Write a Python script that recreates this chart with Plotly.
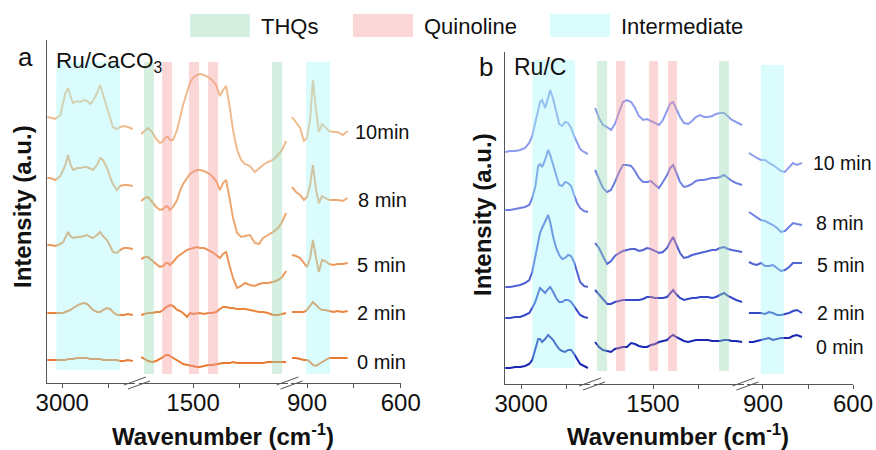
import plotly.graph_objects as go

W, H = 876, 450
FONT = "Liberation Sans, Arial, Helvetica, sans-serif"

# ---------------- data ----------------
# Wavenumbers (cm-1) sampled in the three windows of the broken axis
wn_a = [3048, 3038, 3022, 3006, 2997, 2990, 2981, 2974, 2965, 2952, 2942, 2930, 2920, 2910, 2901,
        2888, 2878, 2869, 2856, 2846, 2837, 2824, 2814, 2802, 2789, 2773,
        1666, 1654, 1644, 1631, 1618, 1606, 1596, 1586, 1580, 1574, 1564, 1551, 1542, 1532, 1519,
        1510, 1500, 1487, 1478, 1465, 1452, 1439, 1426, 1414, 1404, 1394, 1382, 1372, 1359, 1346,
        1334, 1318, 1302, 1289, 1276, 1260, 1244, 1228, 1215, 1202,
        948, 935, 922, 910, 900, 890, 881, 871, 862, 852, 842, 829, 815, 802, 786, 770]

# Ru/CaCO3 spectra (a.u., stacked)
caco3_0min = [23, 23, 23, 23, 23, 23, 24, 24, 24, 25, 25, 25, 25, 24, 24, 24, 24, 23, 23, 23, 23, 23, 22, 22, 23, 22,
              26, 24, 22, 21, 22, 24, 26, 28, 28, 27, 25, 23, 21, 19, 18, 17, 17, 16, 16, 17, 18, 18, 19, 20,
              20, 20, 20, 21, 20, 20, 20, 20, 20, 20, 20, 21, 21, 21, 21, 21,
              25, 25, 24, 23, 23, 21, 18, 17, 19, 21, 23, 25, 25, 25, 25, 25]
caco3_2min = [70, 70, 70, 70, 70, 71, 72, 73, 75, 77, 79, 80, 79, 76, 73, 71, 71, 73, 75, 74, 71, 68, 68, 68, 69, 68,
              68, 69, 70, 70, 71, 71, 73, 76, 77, 78, 77, 73, 72, 70, 66, 70, 69, 70, 70, 69, 70, 70, 71, 74,
              76, 76, 75, 75, 74, 74, 74, 73, 72, 71, 71, 70, 68, 68, 69, 70,
              71, 71, 71, 71, 73, 77, 81, 78, 75, 73, 73, 72, 71, 72, 71, 72]
caco3_5min = [138, 138, 137, 139, 141, 145, 151, 147, 145, 146, 146, 147, 148, 146, 145, 148, 151, 147, 143, 137,
              131, 130, 133, 135, 135, 134,
              124, 126, 126, 122, 119, 116, 117, 120, 120, 118, 121, 126, 128, 130, 133, 134, 135, 136, 135, 135,
              133, 131, 128, 125, 129, 131, 116, 105, 95, 97, 100, 98, 97, 99, 100, 100, 101, 103, 106, 112,
              128, 127, 125, 120, 116, 125, 143, 125, 111, 123, 122, 119, 118, 119, 119, 120]
caco3_8min = [205, 205, 203, 207, 213, 218, 228, 219, 213, 215, 215, 216, 216, 214, 213, 218, 225, 223, 215, 206,
              199, 193, 197, 198, 198, 197,
              182, 185, 186, 181, 176, 173, 174, 177, 176, 173, 176, 183, 192, 199, 205, 209, 211, 213, 213, 212,
              210, 207, 202, 193, 200, 203, 183, 165, 150, 146, 147, 148, 140, 139, 145, 148, 151, 155, 161, 170,
              196, 191, 188, 183, 186, 198, 218, 193, 180, 187, 185, 183, 183, 183, 182, 185]
caco3_10min = [266, 265, 264, 268, 279, 290, 295, 287, 280, 282, 281, 283, 282, 279, 282, 290, 298, 288, 275, 265,
               256, 254, 256, 257, 256, 254,
               249, 252, 255, 251, 244, 240, 242, 246, 246, 243, 243, 253, 265, 278, 291, 300, 305, 308, 309, 308,
               306, 303, 298, 287, 293, 297, 275, 253, 233, 223, 219, 217, 211, 215, 218, 221, 223, 228, 233, 242,
               266, 260, 255, 242, 245, 263, 303, 273, 251, 259, 256, 252, 251, 251, 248, 252]

wn_b = [3053, 3037, 3020, 3003, 2987, 2973, 2963, 2953, 2943, 2937, 2930, 2920, 2910, 2903, 2893, 2883, 2873,
        2863, 2853, 2843, 2833, 2823, 2813, 2803, 2790, 2777,
        1693, 1680, 1667, 1653, 1640, 1627, 1613, 1600, 1587, 1573, 1560, 1547, 1533, 1520, 1507, 1493, 1480,
        1467, 1453, 1443, 1433, 1423, 1410, 1397, 1383, 1370, 1357, 1343, 1330, 1317, 1303, 1290, 1277, 1263,
        1250, 1237, 1223, 1203,
        947, 933, 920, 907, 893, 880, 867, 853, 840, 827, 813, 800, 787, 770]

# Ru/C spectra (a.u., stacked)
ruc_0min = [16, 16, 17, 17, 18, 20, 24, 35, 45, 45, 42, 45, 49, 47, 44, 39, 35, 33, 32, 34, 34, 30, 25, 20, 18, 16,
            42, 37, 34, 33, 32, 35, 36, 37, 37, 41, 40, 38, 37, 37, 39, 40, 42, 43, 44, 47, 49, 47, 45, 43, 42,
            43, 44, 44, 44, 44, 43, 43, 43, 44, 44, 43, 43, 42,
            42, 42, 43, 44, 45, 46, 44, 45, 46, 46, 46, 48, 49, 47]
ruc_2min = [66, 66, 67, 67, 69, 71, 76, 82, 91, 96, 94, 91, 95, 97, 92, 86, 82, 82, 84, 84, 82, 78, 73, 69, 67, 66,
            94, 89, 85, 80, 80, 82, 83, 84, 84, 84, 84, 84, 85, 87, 87, 86, 86, 86, 87, 90, 94, 90, 86, 84, 85,
            86, 86, 87, 87, 87, 86, 87, 89, 91, 88, 86, 84, 82,
            71, 71, 71, 71, 70, 72, 71, 69, 69, 70, 71, 73, 74, 71]
ruc_5min = [97, 97, 98, 99, 101, 104, 112, 127, 144, 151, 156, 162, 169, 162, 147, 136, 129, 125, 126, 129, 128,
            122, 111, 102, 98, 97,
            141, 136, 128, 120, 123, 128, 131, 133, 134, 135, 135, 133, 134, 136, 135, 133, 131, 132, 136, 142,
            147, 140, 131, 126, 127, 129, 130, 131, 132, 133, 134, 134, 136, 137, 135, 134, 133, 132,
            122, 120, 119, 121, 118, 118, 119, 116, 113, 114, 117, 121, 121, 121]
ruc_8min = [174, 174, 175, 176, 177, 179, 186, 197, 218, 220, 217, 224, 234, 229, 219, 208, 199, 198, 202, 201,
            198, 189, 181, 176, 173, 172,
            214, 204, 196, 192, 194, 202, 212, 219, 219, 218, 213, 206, 202, 202, 203, 199, 196, 202, 209, 216,
            219, 212, 202, 197, 198, 200, 203, 204, 204, 205, 206, 206, 207, 209, 206, 203, 201, 199,
            172, 169, 166, 164, 163, 161, 159, 156, 152, 153, 157, 161, 160, 159]
ruc_10min = [232, 233, 233, 234, 236, 241, 248, 262, 277, 282, 284, 276, 286, 294, 285, 272, 260, 258, 262, 261,
             256, 248, 241, 235, 232, 230,
             276, 266, 259, 257, 254, 260, 272, 282, 284, 282, 276, 268, 264, 265, 263, 261, 259, 264, 273, 280,
             282, 276, 267, 261, 260, 263, 267, 269, 267, 267, 268, 270, 271, 271, 267, 264, 262, 259,
             231, 228, 226, 224, 224, 221, 219, 216, 213, 212, 217, 221, 219, 221]

time_labels_a = ["0 min", "2 min", "5 min", "8 min", "10min"]
time_labels_b = ["0 min", "2 min", "5 min", "8 min", "10 min"]

# Highlighted bands (cm-1)
thq_bands_a = [(1657, 1625), (1247, 1215)]
quin_bands_a = [(1599, 1567), (1513, 1481), (1452, 1420)]
inter_bands_a = [(3019, 2814), (903, 826)]
thq_bands_b = [(1687, 1653), (1280, 1247)]
quin_bands_b = [(1623, 1593), (1513, 1483), (1450, 1420)]
inter_bands_b = [(2963, 2820), (907, 830)]

band_names = ["THQs", "Quinoline", "Intermediate"]

# ---------------- styling ----------------
colors_a = ["rgb(232,122,50)", "rgb(234,133,64)", "rgb(236,152,92)", "rgb(238,168,114)", "rgb(240,188,142)"]
colors_b = ["rgb(24,40,180)", "rgb(52,72,200)", "rgb(80,100,214)", "rgb(110,128,226)", "rgb(142,156,238)"]
band_fill = {"THQs": "rgba(150,215,180,0.40)",
             "Quinoline": "rgba(247,150,150,0.38)",
             "Intermediate": "rgba(160,246,246,0.38)"}
AXC = "#555555"
TXT = "#111111"


def px(x):
    return x / W


def py(y):
    return 1 - y / H


# broken-axis windows: (wn_hi, wn_lo, left px, right px, labelled ticks, minor ticks)
win_a = [(3049, 2766, 47, 135, [3000], [2850]),
         (1673, 1196, 139, 288, [1500], [1350]),
         (951.2, 600, 291, 400.75, [900, 600], [750])]
win_b = [(3054, 2770, 505, 590, [3000], [2850]),
         (1696.7, 1196.7, 594, 744, [1500], [1350]),
         (953.3, 600, 747, 853, [900, 600], [750])]

fig = go.Figure()
layout = dict(template="none", width=W, height=H, margin=dict(l=0, r=0, t=0, b=0, pad=0), autosize=False,
              paper_bgcolor="white", plot_bgcolor="white", showlegend=False,
              font=dict(family=FONT, color=TXT))

shapes = []
annotations = []


def add_panel(wn, spectra, colors, windows, xnums, yname, ydom, ytop, bands):
    yref = "y" if yname == "yaxis" else "y" + yname[5:]
    for k, (hi, lo, p0, p1, tv, mv) in enumerate(windows):
        xn = xnums[k]
        xname = "xaxis" if xn == 1 else f"xaxis{xn}"
        xref = "x" if xn == 1 else f"x{xn}"
        layout[xname] = dict(domain=[px(p0), px(p1)], range=[hi, lo], anchor=yref, automargin=False,
                             showline=True, linecolor=AXC, linewidth=1, showgrid=False, zeroline=False,
                             ticks="outside", ticklen=4, tickwidth=1, tickcolor=AXC,
                             tickmode="array", tickvals=tv, ticktext=[str(v) for v in tv],
                             ticklabelstandoff=-6,
                             minor=dict(tickmode="array", tickvals=mv, ticks="outside", ticklen=4,
                                        tickwidth=1, tickcolor=AXC, showgrid=False),
                             tickfont=dict(size=24, family=FONT, color=TXT))
        for spec, col in zip(spectra, colors):
            xs = [w for w in wn if lo <= w <= hi]
            ys = [s for w, s in zip(wn, spec) if lo <= w <= hi]
            fig.add_trace(go.Scatter(x=xs, y=ys, mode="lines", line=dict(color=col, width=2),
                                     xaxis=xref, yaxis=yref, hoverinfo="skip"))
        for name, blist, y0, y1 in bands:
            for (b_hi, b_lo) in blist:
                if lo <= b_lo and b_hi <= hi:
                    shapes.append(dict(type="rect", xref=xref, yref=yref, x0=b_hi, x1=b_lo,
                                       y0=y0, y1=y1, fillcolor=band_fill[name], line_width=0,
                                       layer="above"))
    first = "x" if xnums[0] == 1 else f"x{xnums[0]}"
    layout[yname] = dict(domain=ydom, range=[0, ytop], anchor=first, showline=True, automargin=False,
                         linecolor=AXC, linewidth=1, showticklabels=False, ticks="",
                         showgrid=False, zeroline=False)


add_panel(wn_a, [caco3_0min, caco3_2min, caco3_5min, caco3_8min, caco3_10min], colors_a, win_a,
          [1, 2, 3], "yaxis", [py(383), py(40)], 343,
          [("Intermediate", inter_bands_a[:1], 13, 321), ("Intermediate", inter_bands_a[1:], 9, 321),
           ("THQs", thq_bands_a, 9, 321), ("Quinoline", quin_bands_a, 9, 321)])
add_panel(wn_b, [ruc_0min, ruc_2min, ruc_5min, ruc_8min, ruc_10min], colors_b, win_b,
          [4, 5, 6], "yaxis2", [py(384), py(52)], 332,
          [("Intermediate", inter_bands_b[:1], 16, 324), ("Intermediate", inter_bands_b[1:], 10, 319),
           ("THQs", thq_bands_b, 13, 323), ("Quinoline", quin_bands_b, 13, 323)])

# axis break marks
for cx, cy in [(137, 383), (289.5, 383), (592, 384), (745.5, 384)]:
    for d in (-2, 2):
        shapes.append(dict(type="line", xref="paper", yref="paper",
                           x0=px(cx - 11 + d), y0=py(cy + 4 + d), x1=px(cx + 11 + d), y1=py(cy - 4 + d),
                           line=dict(color=AXC, width=1)))

# legend
for name, x0 in zip(band_names, [190, 353, 550]):
    shapes.append(dict(type="rect", xref="paper", yref="paper", x0=px(x0), x1=px(x0 + 60),
                       y0=py(37), y1=py(14), fillcolor=band_fill[name], line_width=0))
    annotations.append(dict(text=name, x=px(x0 + 69), y=py(26), xref="paper", yref="paper",
                            xanchor="left", yanchor="middle", showarrow=False,
                            font=dict(size=22, family=FONT, color=TXT)))

# time labels
for lab, (x, y) in zip(time_labels_a, [(355, 362), (355, 313), (355, 265), (356, 200), (353, 132)]):
    annotations.append(dict(text=lab, x=px(x), y=py(y), xref="paper", yref="paper", xanchor="left",
                            yanchor="middle", showarrow=False, font=dict(size=20, family=FONT, color=TXT)))
for lab, (x, y) in zip(time_labels_b, [(814, 347), (815, 313), (815, 265), (814, 223), (811, 163)]):
    annotations.append(dict(text=lab, x=px(x), y=py(y), xref="paper", yref="paper", xanchor="left",
                            yanchor="middle", showarrow=False, font=dict(size=19.5, family=FONT, color=TXT)))

# panel letters and catalyst names
for txt, x, y, size, anchor in [("a", 25, 57, 26, "center"), ("b", 486, 67, 26, "center"),
                                ("Ru/CaCO<sub>3</sub>", 54, 62, 22.5, "left"), ("Ru/C", 512, 67, 23, "left")]:
    annotations.append(dict(text=txt, x=px(x), y=py(y), xref="paper", yref="paper", xanchor=anchor,
                            yanchor="middle", showarrow=False, font=dict(size=size, family=FONT, color=TXT)))

# axis titles
for x, y in [(223, 435), (678, 435)]:
    annotations.append(dict(text="<b>Wavenumber (cm<sup>-1</sup>)</b>", x=px(x), y=py(y), xref="paper",
                            yref="paper", xanchor="center", yanchor="middle", showarrow=False,
                            font=dict(size=24, family=FONT, color=TXT)))
for x, y in [(23, 207), (482, 215)]:
    annotations.append(dict(text="<b>Intensity (a.u.)</b>", x=px(x), y=py(y), xref="paper", yref="paper",
                            xanchor="center", yanchor="middle", textangle=-90, showarrow=False,
                            font=dict(size=24, family=FONT, color=TXT)))

layout["shapes"] = shapes
layout["annotations"] = annotations
fig.update_layout(**layout)
fig.write_html("out.html")
